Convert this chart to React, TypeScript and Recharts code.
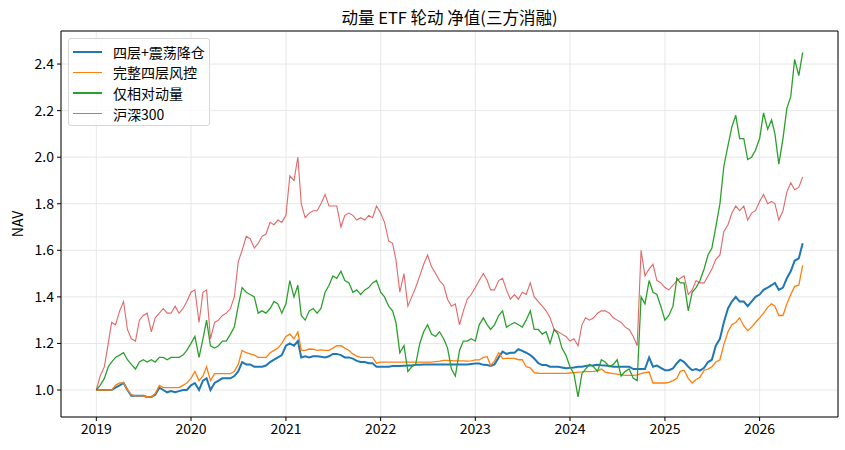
import React from "react";
import { LineChart, Line, XAxis, YAxis, CartesianGrid, ReferenceLine } from "recharts";

// ---- categories (half-monthly observation dates) ----
const years = [2019, 2020, 2021, 2022, 2023, 2024, 2025, 2026];
const halfMonths = [
  "01-01", "01-16", "02-01", "02-16", "03-01", "03-16", "04-01", "04-16",
  "05-01", "05-16", "06-01", "06-16", "07-01", "07-16", "08-01", "08-16",
  "09-01", "09-16", "10-01", "10-16", "11-01", "11-16", "12-01", "12-16",
];
const dates = years.flatMap((y) => halfMonths.map((h) => `${y}-${h}`)).slice(0, 180);

// ---- series values ----
// 四层+震荡降仓
const strat4Osc = [
  1.00, 1.00, 1.00, 1.00, 1.00, 1.01, 1.02, 1.03, 1.00, 0.975, 0.975, 0.975, 0.975, 0.97, 0.97, 0.98, 1.01, 1.00, 0.99, 0.995, 0.99, 0.995, 1.00, 1.00,
  1.02, 1.03, 1.00, 1.04, 1.05, 1.00, 1.03, 1.04, 1.05, 1.05, 1.05, 1.06, 1.08, 1.12, 1.11, 1.11, 1.10, 1.10, 1.10, 1.105, 1.12, 1.13, 1.14, 1.15,
  1.19, 1.20, 1.19, 1.21, 1.14, 1.145, 1.14, 1.145, 1.145, 1.143, 1.14, 1.145, 1.155, 1.155, 1.15, 1.14, 1.14, 1.135, 1.125, 1.12, 1.12, 1.115, 1.115, 1.10,
  1.10, 1.10, 1.10, 1.103, 1.103, 1.103, 1.104, 1.105, 1.105, 1.108, 1.108, 1.11, 1.11, 1.11, 1.11, 1.11, 1.11, 1.11, 1.11, 1.11, 1.11, 1.11, 1.11, 1.112,
  1.114, 1.114, 1.108, 1.107, 1.103, 1.11, 1.14, 1.165, 1.155, 1.16, 1.16, 1.175, 1.168, 1.16, 1.15, 1.135, 1.115, 1.107, 1.107, 1.10, 1.10, 1.10, 1.097, 1.093,
  1.095, 1.097, 1.10, 1.10, 1.103, 1.105, 1.106, 1.108, 1.106, 1.105, 1.103, 1.10, 1.10, 1.10, 1.10, 1.10, 1.09, 1.09, 1.09, 1.09, 1.14, 1.10, 1.105, 1.095,
  1.085, 1.085, 1.093, 1.115, 1.13, 1.12, 1.10, 1.085, 1.09, 1.083, 1.095, 1.12, 1.13, 1.19, 1.22, 1.29, 1.35, 1.38, 1.40, 1.38, 1.38, 1.36, 1.38, 1.40,
  1.41, 1.43, 1.44, 1.45, 1.46, 1.43, 1.44, 1.48, 1.51, 1.555, 1.565, 1.63,
];
// 完整四层风控
const strat4Full = [
  1.00, 1.00, 1.00, 1.00, 1.00, 1.02, 1.03, 1.03, 1.00, 0.98, 0.975, 0.975, 0.975, 0.97, 0.97, 0.985, 1.02, 1.01, 1.01, 1.01, 1.01, 1.01, 1.02, 1.03,
  1.05, 1.08, 1.04, 1.06, 1.10, 1.04, 1.07, 1.07, 1.07, 1.07, 1.07, 1.08, 1.11, 1.17, 1.16, 1.155, 1.15, 1.14, 1.14, 1.14, 1.16, 1.17, 1.18, 1.20,
  1.23, 1.24, 1.22, 1.25, 1.17, 1.17, 1.176, 1.175, 1.17, 1.172, 1.17, 1.17, 1.18, 1.19, 1.19, 1.18, 1.17, 1.155, 1.145, 1.14, 1.14, 1.14, 1.14, 1.115,
  1.12, 1.12, 1.12, 1.12, 1.12, 1.12, 1.12, 1.12, 1.12, 1.12, 1.12, 1.12, 1.12, 1.12, 1.122, 1.124, 1.127, 1.127, 1.126, 1.125, 1.125, 1.125, 1.124, 1.125,
  1.129, 1.129, 1.14, 1.143, 1.105, 1.125, 1.16, 1.135, 1.136, 1.136, 1.136, 1.13, 1.13, 1.10, 1.095, 1.075, 1.072, 1.071, 1.071, 1.071, 1.071, 1.071, 1.071, 1.071,
  1.073, 1.075, 1.077, 1.078, 1.08, 1.079, 1.08, 1.082, 1.09, 1.077, 1.073, 1.07, 1.068, 1.065, 1.063, 1.063, 1.063, 1.065, 1.07, 1.075, 1.077, 1.03, 1.03, 1.03,
  1.03, 1.033, 1.04, 1.05, 1.08, 1.085, 1.05, 1.03, 1.045, 1.055, 1.085, 1.09, 1.10, 1.12, 1.13, 1.195, 1.25, 1.28, 1.29, 1.31, 1.275, 1.255, 1.27, 1.29,
  1.31, 1.33, 1.355, 1.37, 1.36, 1.32, 1.32, 1.37, 1.41, 1.445, 1.45, 1.535,
];
// 仅相对动量
const relMomentum = [
  1.00, 1.02, 1.05, 1.10, 1.12, 1.14, 1.15, 1.16, 1.13, 1.11, 1.09, 1.12, 1.13, 1.12, 1.13, 1.12, 1.14, 1.14, 1.13, 1.14, 1.14, 1.14, 1.15, 1.17,
  1.20, 1.23, 1.14, 1.22, 1.30, 1.19, 1.18, 1.19, 1.21, 1.21, 1.24, 1.27, 1.36, 1.44, 1.42, 1.41, 1.40, 1.33, 1.34, 1.33, 1.35, 1.38, 1.37, 1.33,
  1.37, 1.47, 1.40, 1.45, 1.32, 1.30, 1.34, 1.35, 1.33, 1.35, 1.42, 1.45, 1.49, 1.48, 1.51, 1.47, 1.46, 1.42, 1.43, 1.41, 1.43, 1.44, 1.46, 1.47,
  1.42, 1.40, 1.36, 1.34, 1.29, 1.16, 1.19, 1.08, 1.10, 1.11, 1.20, 1.25, 1.28, 1.24, 1.23, 1.25, 1.22, 1.18, 1.09, 1.06, 1.17, 1.21, 1.21, 1.22,
  1.21, 1.28, 1.31, 1.28, 1.26, 1.28, 1.32, 1.34, 1.27, 1.28, 1.29, 1.28, 1.27, 1.30, 1.34, 1.26, 1.26, 1.24, 1.25, 1.20, 1.26, 1.24, 1.18, 1.15,
  1.10, 1.07, 0.97, 1.07, 1.09, 1.11, 1.10, 1.08, 1.13, 1.12, 1.10, 1.11, 1.13, 1.06, 1.08, 1.09, 1.05, 1.04, 1.40, 1.37, 1.47, 1.42, 1.41, 1.36,
  1.30, 1.32, 1.36, 1.48, 1.46, 1.46, 1.34, 1.42, 1.44, 1.47, 1.52, 1.58, 1.61, 1.70, 1.80, 1.96, 2.05, 2.13, 2.18, 2.08, 2.08, 1.99, 2.00, 2.03,
  2.08, 2.19, 2.12, 2.16, 2.10, 1.97, 2.08, 2.21, 2.26, 2.42, 2.35, 2.45,
];
// 沪深300
const hs300 = [
  1.00, 1.06, 1.10, 1.20, 1.29, 1.28, 1.34, 1.38, 1.26, 1.22, 1.21, 1.30, 1.32, 1.33, 1.25, 1.31, 1.33, 1.35, 1.33, 1.33, 1.36, 1.33, 1.35, 1.38,
  1.42, 1.43, 1.29, 1.42, 1.43, 1.22, 1.29, 1.30, 1.32, 1.33, 1.35, 1.40, 1.55, 1.60, 1.66, 1.65, 1.61, 1.63, 1.66, 1.67, 1.72, 1.71, 1.73, 1.72,
  1.75, 1.92, 1.90, 2.00, 1.80, 1.74, 1.76, 1.77, 1.77, 1.80, 1.84, 1.79, 1.79, 1.79, 1.70, 1.75, 1.76, 1.75, 1.73, 1.74, 1.73, 1.75, 1.74, 1.79,
  1.76, 1.72, 1.64, 1.63, 1.56, 1.42, 1.50, 1.36, 1.40, 1.44, 1.49, 1.54, 1.58, 1.53, 1.50, 1.47, 1.45, 1.39, 1.36, 1.37, 1.28, 1.34, 1.39, 1.41,
  1.44, 1.47, 1.50, 1.47, 1.43, 1.43, 1.47, 1.48, 1.43, 1.39, 1.41, 1.39, 1.42, 1.41, 1.46, 1.40, 1.38, 1.36, 1.34, 1.31, 1.26, 1.25, 1.24, 1.23,
  1.21, 1.22, 1.19, 1.28, 1.31, 1.30, 1.31, 1.33, 1.34, 1.34, 1.33, 1.31, 1.30, 1.29, 1.27, 1.26, 1.23, 1.19, 1.60, 1.49, 1.52, 1.54, 1.47, 1.46,
  1.44, 1.43, 1.45, 1.47, 1.48, 1.49, 1.41, 1.43, 1.47, 1.46, 1.46, 1.49, 1.52, 1.56, 1.58, 1.68, 1.71, 1.76, 1.79, 1.77, 1.79, 1.73, 1.76, 1.77,
  1.81, 1.84, 1.80, 1.81, 1.80, 1.73, 1.77, 1.85, 1.89, 1.86, 1.87, 1.915,
];

// ---- labels ----
const seriesNames = ["四层+震荡降仓", "完整四层风控", "仅相对动量", "沪深300"];
const xTickLabels = ["2019", "2020", "2021", "2022", "2023", "2024", "2025", "2026"];
const yTicks = [1.0, 1.2, 1.4, 1.6, 1.8, 2.0, 2.2, 2.4];
const titleText = "动量 ETF 轮动 净值(三方消融)";
const yLabelText = "NAV";

// ---- build chart table ----
const data = dates.map((d, i) => ({
  t: Date.parse(d),
  a: strat4Osc[i],
  b: strat4Full[i],
  c: relMomentum[i],
  d: hs300[i],
}));
const xTicks = xTickLabels.map((y) => Date.parse(`${y}-01-01`));
const tMin = data[0].t;
const tMax = data[data.length - 1].t;
const pad = (tMax - tMin) * 0.05;
const xDomain: [number, number] = [tMin - pad, tMax + pad];
const yDomain: [number, number] = [0.884, 2.542];

const FONT = '"Noto Sans CJK JP", "Noto Sans CJK SC", sans-serif';

const SERIES = [
  { key: "a", color: "#1f77b4", width: 2, opacity: 1 },
  { key: "b", color: "#ff7f0e", width: 1.3, opacity: 1 },
  { key: "c", color: "#2ca02c", width: 1.3, opacity: 1 },
  { key: "d", color: "#d62728", width: 1.1, opacity: 0.7 },
];

export default function App() {
  return (
    <div
      style={{
        position: "absolute",
        left: 0,
        top: 0,
        width: 845,
        height: 450,
        background: "#fff",
        fontFamily: FONT,
        color: "#000",
      }}
    >
      <LineChart
        width={845}
        height={450}
        data={data}
        margin={{ top: 31, right: 7, bottom: 0, left: 0 }}
        style={{ fontFamily: FONT }}
      >
        <CartesianGrid stroke="#e4e4e4" strokeWidth={0.9} />
        <XAxis
          dataKey="t"
          type="number"
          domain={xDomain}
          ticks={xTicks}
          interval={0}
          allowDataOverflow
          tickFormatter={(v: number) => xTickLabels[xTicks.indexOf(v)]}
          height={33}
          tickSize={4}
          tickMargin={3}
          stroke="#000"
          tick={{ fill: "#000", fontSize: 14 }}
        />
        <YAxis
          type="number"
          domain={yDomain}
          ticks={yTicks}
          interval={0}
          allowDataOverflow
          tickFormatter={(v: number) => v.toFixed(1)}
          width={61}
          tickSize={4}
          tickMargin={3}
          stroke="#000"
          tick={{ fill: "#000", fontSize: 14 }}
        />
        <ReferenceLine y={yDomain[1]} stroke="#000" strokeWidth={1} />
        <ReferenceLine x={xDomain[1]} stroke="#000" strokeWidth={1} />
        {SERIES.map((s, i) => (
          <Line
            key={s.key}
            type="linear"
            dataKey={s.key}
            name={seriesNames[i]}
            stroke={s.color}
            strokeWidth={s.width}
            strokeOpacity={s.opacity}
            dot={false}
            activeDot={false}
            isAnimationActive={false}
          />
        ))}
      </LineChart>

      {/* title */}
      <div
        style={{
          position: "absolute",
          left: 149.5,
          width: 600,
          top: 6,
          textAlign: "center",
          fontSize: 16.5,
          lineHeight: "22px",
        }}
      >
        {titleText}
      </div>

      {/* y-axis label */}
      <div
        style={{
          position: "absolute",
          left: 17,
          top: 224,
          fontSize: 14,
          lineHeight: "16px",
          whiteSpace: "nowrap",
          transform: "translate(-50%, -50%) rotate(-90deg)",
        }}
      >
        {yLabelText}
      </div>

      {/* legend */}
      <div
        style={{
          position: "absolute",
          left: 68,
          top: 38,
          width: 142,
          height: 88,
          boxSizing: "border-box",
          border: "1px solid #d6d6d6",
          borderRadius: 3,
          background: "rgba(255,255,255,0.8)",
        }}
      >
        {SERIES.map((s, i) => (
          <div
            key={s.key}
            style={{
              position: "absolute",
              left: 0,
              top: 2.7 + i * 20.6,
              height: 20,
              width: 140,
            }}
          >
            <div
              style={{
                position: "absolute",
                left: 3.5,
                width: 29,
                top: 10 - s.width / 2,
                height: s.width,
                background: s.color,
                opacity: s.opacity,
              }}
            />
            <div
              style={{
                position: "absolute",
                left: 44,
                top: 0,
                fontSize: 14,
                lineHeight: "20px",
                whiteSpace: "nowrap",
              }}
            >
              {seriesNames[i]}
            </div>
          </div>
        ))}
      </div>
    </div>
  );
}
